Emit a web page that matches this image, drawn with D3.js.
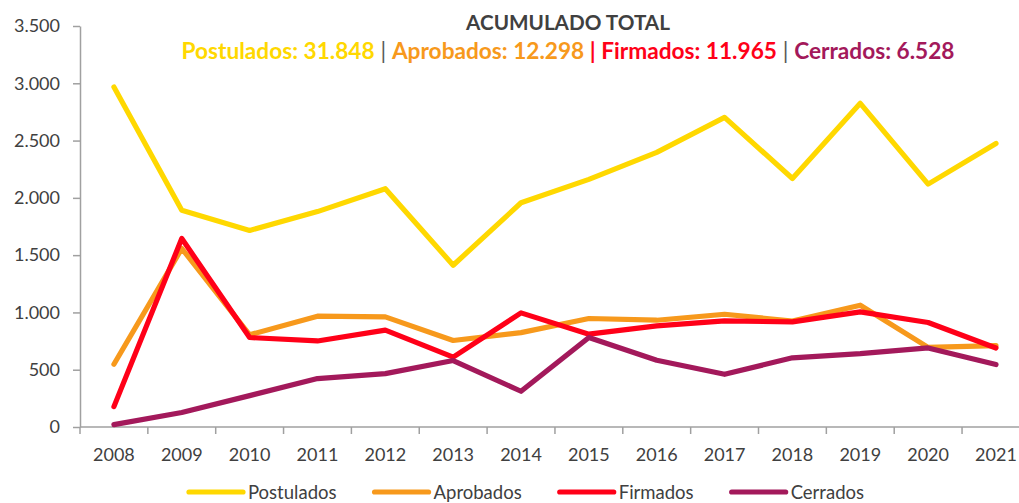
<!DOCTYPE html>
<html>
<head>
<meta charset="utf-8">
<script src="https://cdn.jsdelivr.net/npm/d3@7"></script>
<style>
  html, body { margin: 0; padding: 0; background: #fff; }
  svg { display: block; font-family: Lato, "Open Sans", sans-serif; }
</style>
</head>
<body>
<svg id="chart" width="1019" height="503"></svg>
<script>
// ---- data ----
const years = ["2008","2009","2010","2011","2012","2013","2014","2015","2016","2017","2018","2019","2020","2021"];
const postulados = [2967, 1891, 1716, 1880, 2080, 1412, 1957, 2161, 2397, 2702, 2169, 2825, 2120, 2475];
const aprobados  = [ 548, 1558,  805,  967,  961,  755,  824,  947,  932,  984,  925, 1063,  695,  710];
const firmados   = [ 178, 1645,  781,  751,  845,  610,  996,  810,  882,  926,  917, 1005,  912,  690];
const cerrados   = [  21,  126,  274,  423,  466,  580,  312,  781,  583,  460,  604,  640,  690,  545];
const seriesNames = ["Postulados", "Aprobados", "Firmados", "Cerrados"];
const seriesColors = ["#FFD800", "#F7991C", "#FF0018", "#A3195B"];
const totals = ["31.848", "12.298", "11.965", "6.528"];
const yTicks = [0, 500, 1000, 1500, 2000, 2500, 3000, 3500];
const titleText = "ACUMULADO TOTAL";

// ---- layout ----
const svg = d3.select("#chart");
const mLeft = 80, mTop = 26, mBottom = 427;
const band = 67.85;
const x = d3.scaleBand().domain(years).range([mLeft, mLeft + band * years.length]).paddingInner(0).paddingOuter(0);
const y = d3.scaleLinear().domain([0, 3500]).range([mBottom, mTop]);
const fmt = d3.formatLocale({ decimal: ",", thousands: ".", grouping: [3], currency: ["", ""] }).format(",d");
const axisColor = "#A0A0A0";
const textColor = "#404040";

function fitWidth(el, target) {
  const w = el.node().getComputedTextLength();
  const fs = parseFloat(el.style("font-size"));
  el.style("font-size", (fs * target / w).toFixed(2) + "px");
}

// y axis
const yAxis = d3.axisLeft(y).tickValues(yTicks).tickFormat(fmt).tickSize(7).tickSizeOuter(0).tickPadding(13);
const gy = svg.append("g").attr("transform", `translate(${mLeft},0)`).call(yAxis);
gy.select(".domain").attr("stroke", axisColor).attr("stroke-width", 1.5);
gy.selectAll(".tick line").attr("stroke", axisColor).attr("stroke-width", 1.5);
gy.selectAll(".tick text").attr("fill", textColor).style("font-size", "18px").style("font-family", "Lato, sans-serif");

// x axis (ticks between categories)
const gx = svg.append("g");
gx.append("line").attr("x1", mLeft).attr("x2", x.range()[1]).attr("y1", mBottom).attr("y2", mBottom)
  .attr("stroke", axisColor).attr("stroke-width", 1.5);
const boundaries = years.map(d => x(d)).concat([x.range()[1]]);
gx.selectAll("line.tk").data(boundaries).join("line").attr("class", "tk")
  .attr("x1", d => d).attr("x2", d => d).attr("y1", mBottom).attr("y2", mBottom + 7)
  .attr("stroke", axisColor).attr("stroke-width", 1.5);
gx.selectAll("text").data(years).join("text")
  .attr("x", d => x(d) + x.bandwidth() / 2).attr("y", 461)
  .attr("text-anchor", "middle").attr("fill", textColor).style("font-size", "18px")
  .text(d => d);

// lines
const allSeries = [postulados, aprobados, firmados, cerrados];
const line = d3.line().x((d, i) => x(years[i]) + x.bandwidth() / 2).y(d => y(d));
svg.append("g").selectAll("path").data(allSeries).join("path")
  .attr("d", d => line(d)).attr("fill", "none")
  .attr("stroke", (d, i) => seriesColors[i]).attr("stroke-width", 5.2)
  .attr("stroke-linecap", "round").attr("stroke-linejoin", "round");

// title
const center = 568;
const title = svg.append("text").attr("x", center).attr("y", 30).attr("text-anchor", "middle")
  .attr("fill", textColor).style("font-weight", "bold").style("font-size", "19px").text(titleText);
fitWidth(title, 204);

// subtitle
const sub = svg.append("text").attr("x", center).attr("y", 59).attr("text-anchor", "middle")
  .style("font-weight", "bold").style("font-size", "19px");
const sepColors = ["#595959", "#FF0018", "#595959"];
seriesNames.forEach((n, i) => {
  if (i > 0) sub.append("tspan").attr("fill", sepColors[i - 1]).style("font-weight", i === 2 ? "bold" : "normal").text(" | ");
  sub.append("tspan").attr("fill", seriesColors[i]).text(`${n}: ${totals[i]}`);
});
fitWidth(sub, 773);

// legend
const lg = svg.append("g");
const items = lg.selectAll("g").data(seriesNames).join("g");
items.append("line").attr("x1", 0).attr("x2", 54).attr("y1", 0).attr("y2", 0)
  .attr("stroke", (d, i) => seriesColors[i]).attr("stroke-width", 5.2).attr("stroke-linecap", "round");
items.append("text").attr("x", 59).attr("y", 6.5).attr("fill", textColor).style("font-size", "18.5px").text(d => d);
const widths = [];
items.each(function () { widths.push(this.getBBox().width); });
const legendStart = 189, legendEnd = 864;
const gap = (legendEnd - legendStart - d3.sum(widths)) / (widths.length - 1);
let cx = 0;
const offs = widths.map(w => { const o = cx; cx += w + gap; return o; });
items.attr("transform", (d, i) => `translate(${offs[i]},0)`);
lg.attr("transform", `translate(${legendStart},492)`);
</script>
</body>
</html>
